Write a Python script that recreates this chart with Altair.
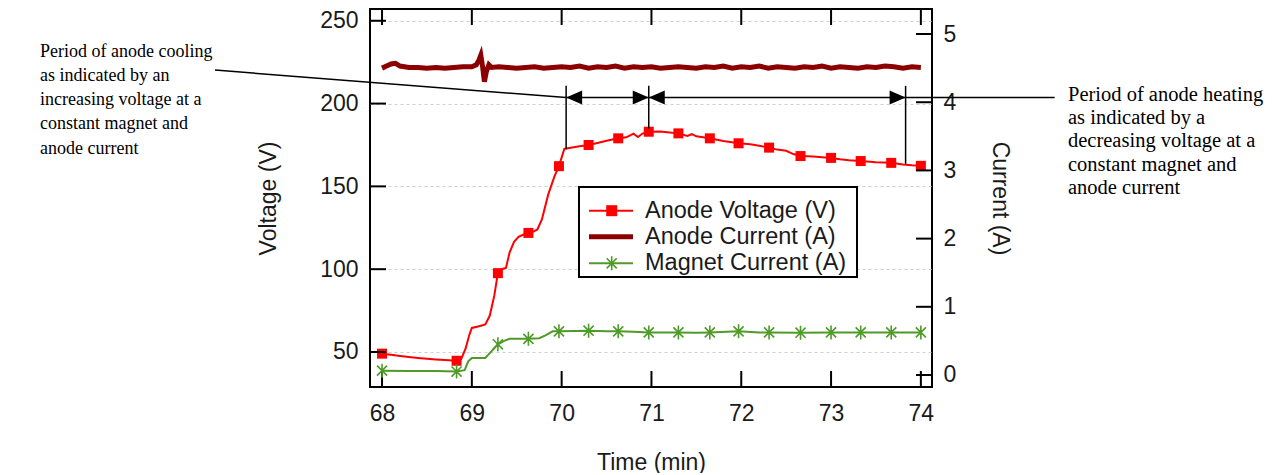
import altair as alt
import pandas as pd

# ---------------- data ----------------
x_ticks = [68, 69, 70, 71, 72, 73, 74]
v_ticks = [50, 100, 150, 200, 250]
a_ticks = [0, 1, 2, 3, 4, 5]

# anode voltage trace (min, V)
volt_t = [68.0, 68.1, 68.2, 68.3, 68.4, 68.5, 68.6, 68.7,
          68.83, 68.88, 68.93, 68.97,
          69.0, 69.08, 69.15, 69.2, 69.25, 69.29,
          69.33, 69.38, 69.42, 69.47, 69.52, 69.57, 69.63,
          69.68, 69.73, 69.78, 69.85, 69.92, 69.97,
          70.03, 70.1, 70.2, 70.3, 70.4, 70.5, 70.63,
          70.72, 70.8, 70.85, 70.9, 70.97,
          71.1, 71.2, 71.3, 71.4, 71.45, 71.5, 71.65,
          71.8, 71.97, 72.1, 72.2, 72.31,
          72.4, 72.5, 72.58, 72.66, 72.8,
          73.0, 73.1, 73.2, 73.33, 73.5, 73.67,
          73.8, 73.9, 74.0]
volt_v = [49.0, 48.3, 47.6, 47.0, 46.4, 45.9, 45.5, 45.2,
          44.7, 45.5, 52.0, 60.0,
          64.5, 65.5, 66.6, 72.0, 84.0, 97.6,
          100.0, 100.8, 110.0, 116.5, 119.5, 120.8, 121.9,
          122.5, 124.0, 130.0, 145.0, 156.0, 162.2,
          172.6, 173.3, 174.2, 175.0, 176.2, 177.5, 179.0,
          179.6, 181.8, 179.8, 181.9, 183.0,
          183.1, 182.6, 182.0, 180.5, 181.5, 180.2, 179.0,
          177.4, 176.0, 175.4, 174.5, 173.4,
          172.2, 171.5, 169.5, 168.3, 168.0,
          167.2, 166.4, 165.8, 165.3, 164.6, 164.2,
          163.2, 162.7, 162.4]

# sample times carrying a marker
mark_t = [68.0, 68.83, 69.29, 69.63, 69.97, 70.30, 70.63, 70.97, 71.30,
          71.65, 71.97, 72.31, 72.66, 73.0, 73.33, 73.67, 74.0]
volt_mark_v = [49.0, 44.7, 97.6, 121.9, 162.2, 175.0, 179.0, 183.0, 182.0,
               179.0, 176.0, 173.4, 168.3, 167.2, 165.3, 164.2, 162.4]

# anode current trace (min, A)
cur_t = [68.0, 68.05, 68.1, 68.15, 68.2, 68.3, 68.4, 68.5, 68.6, 68.7, 68.8, 68.9, 69.0,
         69.05, 69.08, 69.1, 69.12, 69.14, 69.16, 69.19, 69.22,
         69.3, 69.4, 69.5, 69.6, 69.7, 69.8, 69.9, 70.0, 70.1, 70.2,
         70.3, 70.4, 70.5, 70.6, 70.7, 70.8, 70.9, 71.0, 71.1, 71.2,
         71.3, 71.4, 71.5, 71.6, 71.7, 71.8, 71.9, 72.0, 72.1, 72.2,
         72.3, 72.4, 72.5, 72.6, 72.7, 72.8, 72.9, 73.0, 73.1, 73.2,
         73.3, 73.4, 73.5, 73.6, 73.7, 73.8, 73.9, 74.0]
cur_a = [4.50, 4.53, 4.56, 4.57, 4.53, 4.51, 4.51, 4.50, 4.51, 4.50, 4.51, 4.52, 4.52,
         4.55, 4.62, 4.69, 4.52, 4.30, 4.44, 4.55, 4.51,
         4.52, 4.51, 4.50, 4.51, 4.52, 4.50, 4.51, 4.52, 4.51, 4.53,
         4.50, 4.52, 4.51, 4.53, 4.50, 4.52, 4.51, 4.52, 4.50, 4.51,
         4.52, 4.51, 4.50, 4.52, 4.51, 4.53, 4.50, 4.52, 4.51, 4.53,
         4.50, 4.52, 4.51, 4.50, 4.52, 4.51, 4.53, 4.50, 4.52, 4.51,
         4.50, 4.52, 4.51, 4.53, 4.52, 4.50, 4.52, 4.51]

# magnet current trace (min, A)
mag_t = [68.0, 68.3, 68.6, 68.83, 68.92, 68.96, 69.0, 69.15, 69.22, 69.29,
         69.36, 69.42, 69.5, 69.63, 69.75, 69.82, 69.9, 69.97, 70.15, 70.3,
         70.5, 70.63, 70.8, 70.97, 71.3, 71.5, 71.65, 71.97, 72.2, 72.31,
         72.66, 73.0, 73.33, 73.67, 74.0]
mag_a = [0.064, 0.058, 0.058, 0.05, 0.07, 0.2, 0.25, 0.25, 0.35, 0.45,
         0.5, 0.53, 0.53, 0.53, 0.54, 0.58, 0.64, 0.64, 0.645, 0.65,
         0.64, 0.64, 0.635, 0.625, 0.625, 0.62, 0.625, 0.64, 0.625, 0.625,
         0.62, 0.625, 0.625, 0.625, 0.625]
mag_mark_a = [0.064, 0.05, 0.45, 0.53, 0.64, 0.65, 0.64, 0.625, 0.625,
              0.625, 0.64, 0.625, 0.62, 0.625, 0.625, 0.625, 0.625]

series_names = ["Anode Voltage (V)", "Anode Current (A)", "Magnet Current (A)"]

# annotation of the cooling / heating periods
period_t = [70.05, 70.97, 73.83]
period_floor_v = [172.6, 185.0, 163.6]
period_top_v = 210.7
arrow_v = 203.6
cool_leader_t = [66.14, 70.05]
cool_leader_v = [220.2, 203.6]
heat_leader_t = [73.83, 75.49]
note_cool = ["Period of anode cooling", "as indicated by an",
             "increasing voltage at a", "constant magnet and", "anode current"]
note_heat = ["Period of anode heating", "as indicated by a",
             "decreasing voltage at a", "constant magnet and", "anode current"]

# ---------------- style ----------------
W, H = 562, 378
SANS = "Liberation Sans"
SERIF = "Liberation Serif"
INK = "#1a1a1a"
RED = "#ff0000"
DARKRED = "#8b0000"
GREEN = "#4f9a28"
FS = 23
TICK = 16
STAR = "M0,-1L0,1M-0.72,-0.72L0.72,0.72M-0.72,0.72L0.72,-0.72"
HEAD_L = "M0,0L2,-0.875L2,0.875Z"
HEAD_R = "M0,0L-2,-0.875L-2,0.875Z"

x_scale = alt.Scale(domain=[67.866, 74.124], nice=False, zero=False)
v_scale = alt.Scale(domain=[28.86, 257.1], nice=False, zero=False)
a_scale = alt.Scale(domain=[-0.176, 5.367], nice=False, zero=False)

common = dict(ticks=False, tickSize=0, domain=False,
              labelFont=SANS, labelFontSize=FS, labelColor=INK,
              titleFont=SANS, titleFontSize=FS, titleFontWeight="normal", titleColor=INK)
x_axis = alt.Axis(values=x_ticks, title="Time (min)", grid=False, labelPadding=15,
                  titlePadding=26, **common)
v_axis = alt.Axis(values=v_ticks, title="Voltage (V)", orient="left", grid=True,
                  gridDash=[3, 3], gridColor="#cfcfcf", gridWidth=1,
                  labelPadding=12, titlePadding=39, **common)
a_axis = alt.Axis(values=a_ticks, title="Current (A)", orient="right", grid=False,
                  labelPadding=11, titlePadding=32, **common)

X = alt.X("t:Q", scale=x_scale, axis=x_axis)
YV = alt.Y("v:Q", scale=v_scale, axis=v_axis)
YA = alt.Y("a:Q", scale=a_scale, axis=a_axis)

one = pd.DataFrame({"k": [0]})

# ---------------- left (voltage) group ----------------
volt_line = alt.Chart(pd.DataFrame({"t": volt_t, "v": volt_v})).mark_line(
    color=RED, strokeWidth=2).encode(x=X, y=YV)
volt_pts = alt.Chart(pd.DataFrame({"t": mark_t, "v": volt_mark_v})).mark_point(
    shape="square", filled=True, color=RED, size=100, opacity=1).encode(x=X, y=YV)

xt = pd.DataFrame({"t": x_ticks})
tick_bottom = alt.Chart(xt).mark_rule(color="black", strokeWidth=2).encode(
    x=X, y=alt.value(H), y2=alt.value(H - TICK))
tick_top = alt.Chart(xt).mark_rule(color="black", strokeWidth=2).encode(
    x=X, y=alt.value(0), y2=alt.value(TICK))
tick_left = alt.Chart(pd.DataFrame({"v": v_ticks})).mark_rule(
    color="black", strokeWidth=2).encode(y=YV, x=alt.value(0), x2=alt.value(TICK))

verticals = alt.Chart(pd.DataFrame({
    "t": period_t, "v": period_floor_v, "v2": [period_top_v] * len(period_t)
})).mark_rule(color="black", strokeWidth=1.5).encode(x=X, y=YV, y2=alt.Y2("v2:Q"))
arrows = alt.Chart(pd.DataFrame({
    "t": period_t[:-1], "t2": period_t[1:], "v": [arrow_v] * (len(period_t) - 1)
})).mark_rule(color="black", strokeWidth=1.5).encode(x=X, x2=alt.X2("t2:Q"), y=YV)
heads_l = alt.Chart(pd.DataFrame({"t": period_t[:-1], "v": [arrow_v] * 2})).mark_point(
    shape=HEAD_L, filled=True, color="black", size=256, opacity=1).encode(x=X, y=YV)
heads_r = alt.Chart(pd.DataFrame({"t": period_t[1:], "v": [arrow_v] * 2})).mark_point(
    shape=HEAD_R, filled=True, color="black", size=256, opacity=1).encode(x=X, y=YV)
cool_leader = alt.Chart(pd.DataFrame({
    "t": [cool_leader_t[0]], "t2": [cool_leader_t[1]],
    "v": [cool_leader_v[0]], "v2": [cool_leader_v[1]]
})).mark_rule(color="black", strokeWidth=1.5).encode(
    x=X, x2=alt.X2("t2:Q"), y=YV, y2=alt.Y2("v2:Q"))
heat_leader = alt.Chart(pd.DataFrame({
    "t": [heat_leader_t[0]], "t2": [heat_leader_t[1]], "v": [arrow_v]
})).mark_rule(color="black", strokeWidth=1.5).encode(x=X, x2=alt.X2("t2:Q"), y=YV)

cool_text = alt.Chart(pd.DataFrame({"note": ["\n".join(note_cool)]})).mark_text(
    align="left", baseline="alphabetic", lineBreak="\n", lineHeight=24.3,
    font=SERIF, fontSize=18, color="black").encode(
    x=alt.value(-330), y=alt.value(47.5), text="note:N")
heat_text = alt.Chart(pd.DataFrame({"note": ["\n".join(note_heat)]})).mark_text(
    align="left", baseline="alphabetic", lineBreak="\n", lineHeight=23.4,
    font=SERIF, fontSize=20.5, color="black").encode(
    x=alt.value(698), y=alt.value(91.5), text="note:N")

left = alt.layer(volt_line, volt_pts, tick_bottom, tick_top, tick_left,
                 verticals, arrows, heads_l, heads_r, cool_leader, heat_leader,
                 cool_text, heat_text)

# ---------------- right (current) group ----------------
cur_line = alt.Chart(pd.DataFrame({"t": cur_t, "a": cur_a})).mark_line(
    color=DARKRED, strokeWidth=5).encode(x=X, y=YA)
mag_line = alt.Chart(pd.DataFrame({"t": mag_t, "a": mag_a})).mark_line(
    color=GREEN, strokeWidth=2).encode(x=X, y=YA)
mag_pts = alt.Chart(pd.DataFrame({"t": mark_t, "a": mag_mark_a})).mark_point(
    shape=STAR, filled=False, color=GREEN, size=196, strokeWidth=1.6, opacity=1).encode(
    x=X, y=YA)
tick_right = alt.Chart(pd.DataFrame({"a": a_ticks})).mark_rule(
    color="black", strokeWidth=2).encode(y=YA, x=alt.value(W - TICK), x2=alt.value(W))

# legend (drawn by hand)
leg_box = alt.Chart(one).mark_rect(fill="white", stroke="black", strokeWidth=2).encode(
    x=alt.value(209), x2=alt.value(487), y=alt.value(178), y2=alt.value(268))
leg_rows = [201.7, 227.7, 254.3]
leg_colors = [RED, DARKRED, GREEN]
leg_widths = [2, 5, 2]
leg_layers = [leg_box]
for name, row, col, sw in zip(series_names, leg_rows, leg_colors, leg_widths):
    d = pd.DataFrame({"label": [name]})
    leg_layers.append(alt.Chart(d).mark_rule(color=col, strokeWidth=sw).encode(
        x=alt.value(219), x2=alt.value(263), y=alt.value(row)))
    leg_layers.append(alt.Chart(d).mark_text(
        align="left", baseline="middle", font=SANS, fontSize=23.5, color=INK).encode(
        x=alt.value(275), y=alt.value(row), text="label:N"))
leg_layers.append(alt.Chart(one).mark_point(
    shape="square", filled=True, color=RED, size=121, opacity=1).encode(
    x=alt.value(241.7), y=alt.value(leg_rows[0])))
leg_layers.append(alt.Chart(one).mark_point(
    shape=STAR, filled=False, color=GREEN, size=196, strokeWidth=1.6, opacity=1).encode(
    x=alt.value(241.7), y=alt.value(leg_rows[2])))

right = alt.layer(cur_line, mag_line, mag_pts, tick_right, *leg_layers)

chart = alt.layer(left, right).resolve_scale(y="independent").properties(
    width=W, height=H,
    padding={"left": 362, "top": 1, "right": 338, "bottom": 86},
    autosize=alt.AutoSizeParams(type="none"),
    background="white",
).configure_view(stroke="black", strokeWidth=2)

chart.save("out.html", embed_options={"renderer": "svg", "actions": False})
